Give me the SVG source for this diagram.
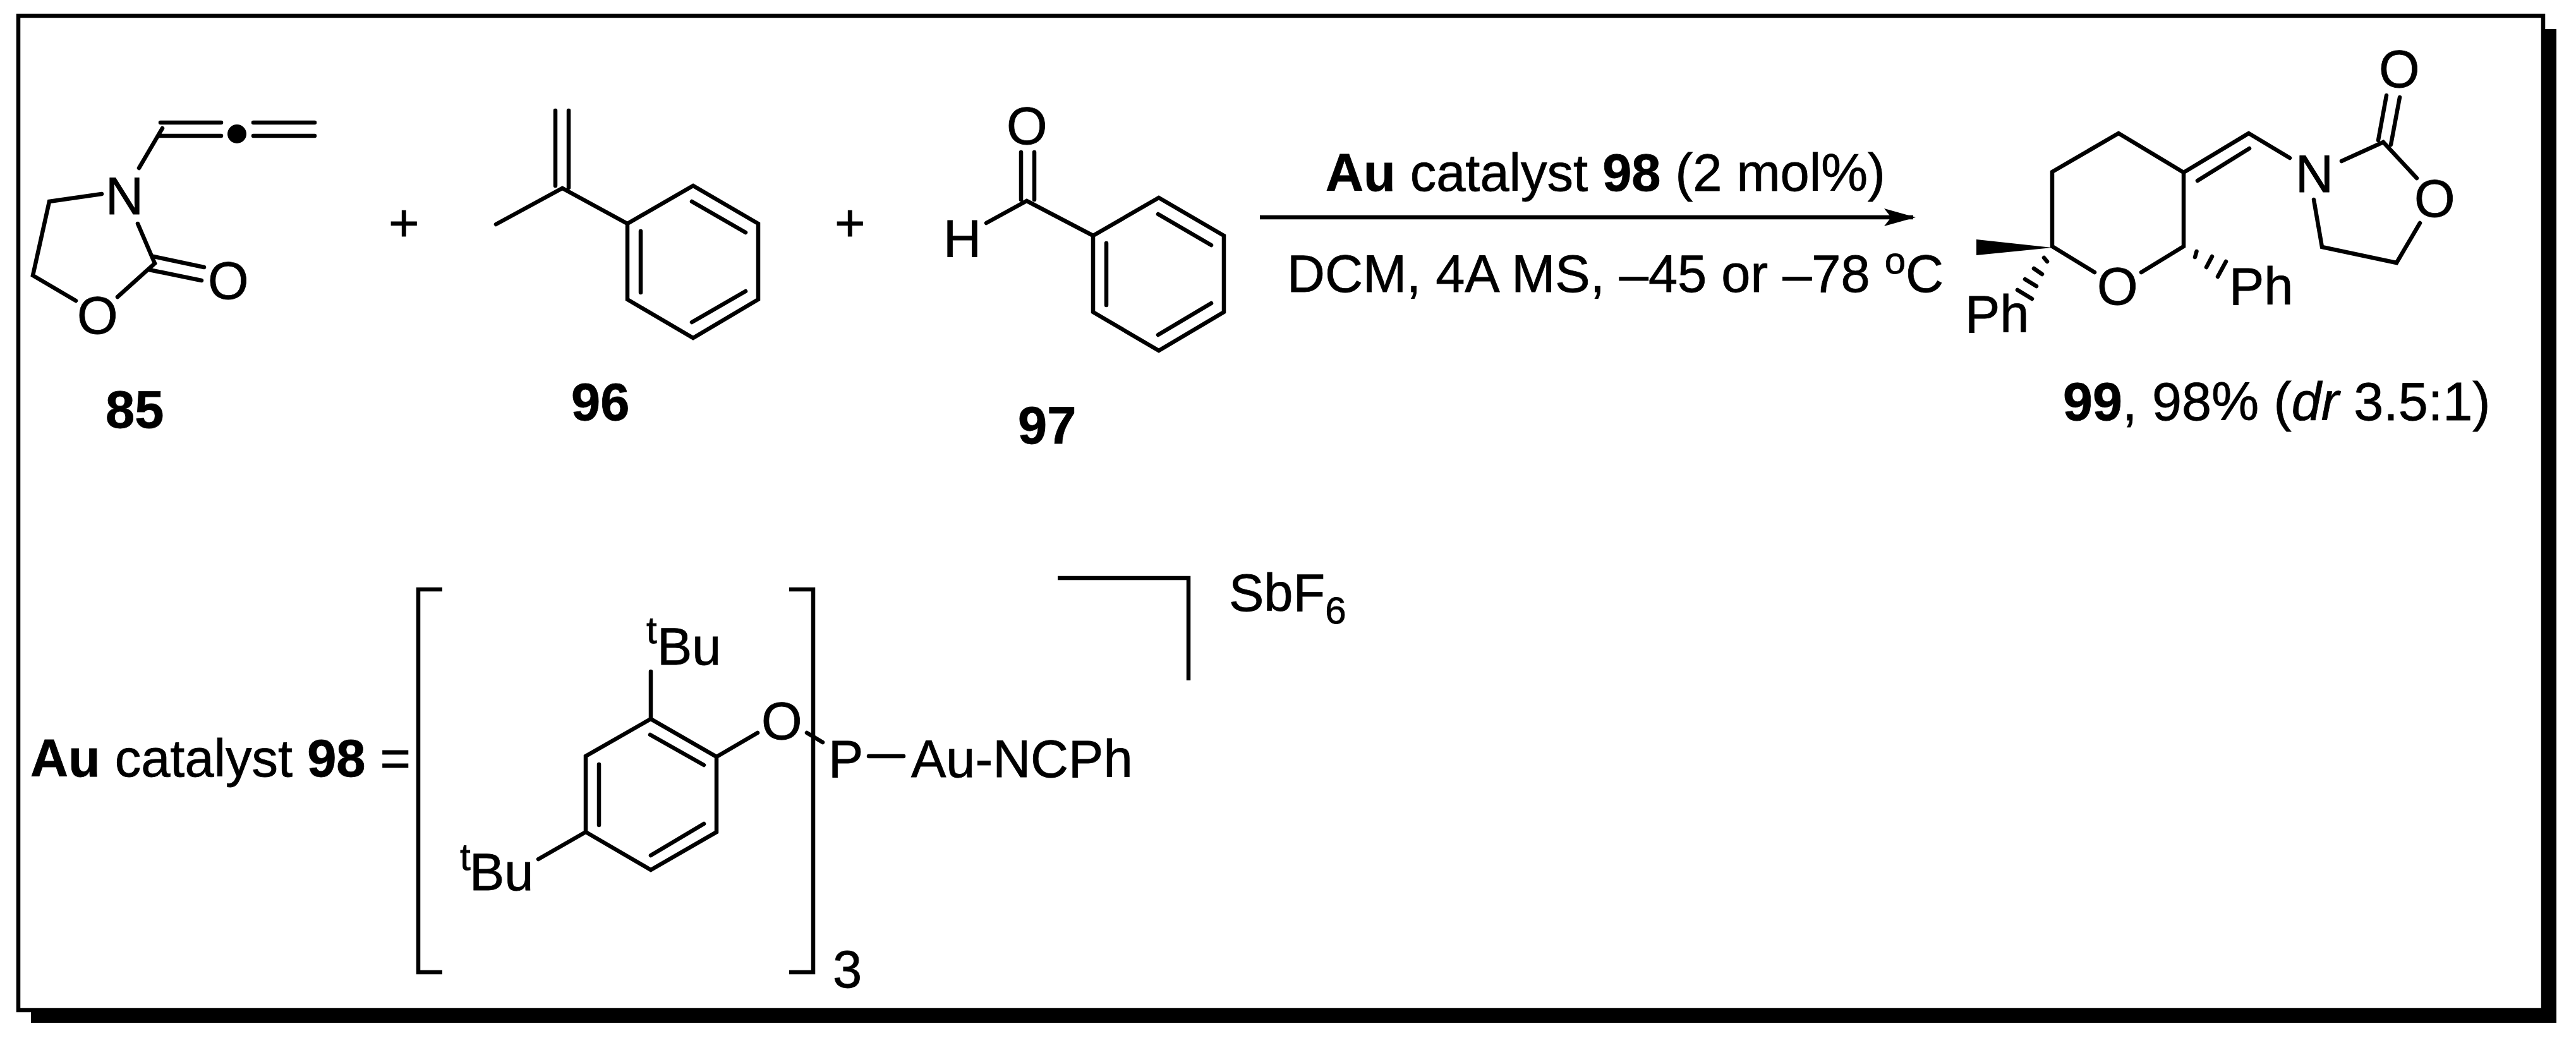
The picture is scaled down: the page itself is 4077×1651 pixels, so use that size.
<svg xmlns="http://www.w3.org/2000/svg" width="4077" height="1651" viewBox="0 0 4077 1651">
<style>
text{font-family:"Liberation Sans",Arial,sans-serif;font-size:83px;fill:#000;stroke:#000;stroke-width:.8}
.b{font-weight:bold}
.i{font-style:italic}
.s{font-size:60px}
.bond,.bond path{fill:none;stroke:#000;stroke-width:6.500;stroke-linecap:round;stroke-linejoin:miter}
.brk{fill:none;stroke:#000;stroke-width:6.500;stroke-linecap:butt;stroke-linejoin:miter}
</style>
<defs>
<marker id="ah" markerUnits="userSpaceOnUse" markerWidth="52" markerHeight="30" refX="46" refY="14" orient="auto" viewBox="0 0 52 30"><path d="M50 14L0 0L11 14L0 28Z" fill="#000"/></marker>
</defs>
<rect width="4077" height="1651" fill="#fff"/>
<g id="frame">
<rect x="49" y="46" width="3997" height="1573" fill="#000"/>
<rect x="29" y="25" width="3996" height="1574" fill="#fff" stroke="#000" stroke-width="6.500"/>
</g>
<g id="connectors">
<path d="M1994 344H3028" fill="none" stroke="#000" stroke-width="6.500" marker-end="url(#ah)"/>
</g>
<g id="compound-85">
<path class="bond" d="M220 266L257 203M254 194H350M252 215H350M401 194H498M401 215H498M161 307L78 319L52 436L120 476M186 470L245 417L218 354M243 406L323 423M236 427L319 444"/>
<circle cx="375" cy="212" r="15"/>
<text x="167" y="339">N</text>
<text x="122" y="528">O</text>
<text x="329" y="473">O</text>
<text class="b" x="167" y="677">85</text>
</g>
<g id="plus-1"><text x="615" y="381">+</text></g>
<g id="compound-96">
<path class="bond" d="M879 175V294M900 175V297M785 355L890 298L993 354L1097 294L1200 354V474L1097 535L993 474V354M1095 319L1180 368M1014 366V463M1095 510L1180 461"/>
<text class="b" x="904" y="665">96</text>
</g>
<g id="plus-2"><text x="1321" y="381">+</text></g>
<g id="compound-97">
<path class="bond" d="M1616 241V316M1637 241V316M1561 353L1625 318L1730 373L1834 313L1937 373V494L1834 555L1730 494V373M1833 339L1917 388M1751 385V483M1833 530L1917 480"/>
<text x="1593" y="228">O</text>
<text x="1493" y="407">H</text>
<text class="b" x="1611" y="702">97</text>
</g>
<g id="conditions">
<text x="2098" y="302"><tspan class="b">Au</tspan> catalyst <tspan class="b">98</tspan> (2 mol%)</text>
<text x="2037" y="462">DCM, 4A MS, –45 or –78 <tspan class="s" dy="-29">o</tspan><tspan dy="29">C</tspan></text>
</g>
<g id="compound-99">
<path class="bond" d="M3315 431L3248 390V272L3353 211L3456 273V390L3389 431M3456 273L3559 211L3624 250M3478 286L3560 235M3706 255L3772 225L3825 282M3764 222L3777 151M3784 229L3798 154M3830 353L3793 416L3675 391L3662 316"/>
<polygon points="3128,379 3128,404 3248,392"/>
<path class="bond" d="M3235 408L3240 414M3219 425L3232 434M3205 442L3223 453M3193 459L3216 473M3476.500 398L3474 407M3501 406L3492 423M3523 414L3510 438"/>
<text x="3319" y="482">O</text>
<text x="3633" y="304">N</text>
<text x="3765" y="138">O</text>
<text x="3821" y="343">O</text>
<text x="3110" y="526">Ph</text>
<text x="3528" y="482">Ph</text>
<text x="3265" y="665" style="font-size:84.500px"><tspan class="b">99</tspan>, 98% (<tspan class="i">dr</tspan> 3.5:1)</text>
</g>
<g id="catalyst-98">
<text x="48" y="1229"><tspan class="b">Au</tspan> catalyst <tspan class="b">98</tspan> =</text>
<path class="brk" d="M700 933H662V1539H700M1249 933H1287V1539H1249M1674 915H1881V1077"/>
<path class="bond" d="M1030 1063V1138L1134 1198V1317L1030 1377L927 1317V1197L1030 1138M1029 1163L1114 1211M948 1210V1306M1030 1354L1114 1304M927 1317L852 1360M1134 1198L1199 1160M1277 1160L1302 1175M1375 1197H1430"/>
<text class="s" x="1023" y="1018">t</text>
<text x="1040" y="1052">Bu</text>
<text class="s" x="728" y="1377">t</text>
<text x="743" y="1409">Bu</text>
<text x="1205" y="1170">O</text>
<text x="1311" y="1230">P</text>
<text x="1442" y="1230">Au-NCPh</text>
<text x="1318" y="1563">3</text>
<text x="1945" y="967">SbF<tspan class="s" dy="20">6</tspan></text>
</g>
</svg>
